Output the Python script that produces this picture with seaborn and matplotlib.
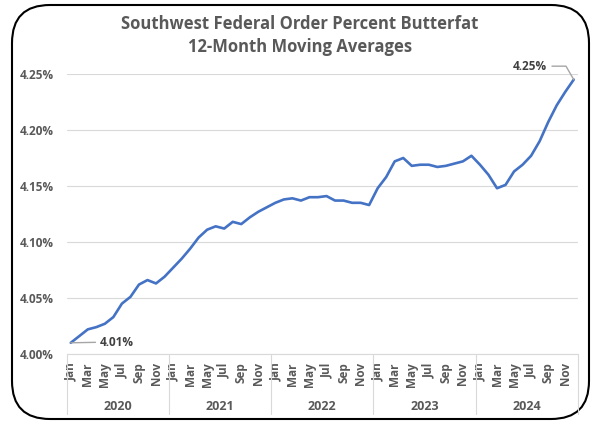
import pandas as pd
import seaborn as sns
import matplotlib.pyplot as plt
from matplotlib.patches import FancyBboxPatch
from matplotlib.transforms import blended_transform_factory

# monthly 12-month moving average of butterfat %, Jan 2020 - Dec 2024
years = ["2020", "2021", "2022", "2023", "2024"]
months = ["Jan", "Feb", "Mar", "Apr", "May", "Jun",
          "Jul", "Aug", "Sep", "Oct", "Nov", "Dec"]
pct_2020 = [4.010, 4.016, 4.022, 4.024, 4.027, 4.033, 4.045, 4.051, 4.062, 4.066, 4.063, 4.069]
pct_2021 = [4.077, 4.085, 4.094, 4.104, 4.111, 4.114, 4.112, 4.118, 4.116, 4.122, 4.127, 4.131]
pct_2022 = [4.135, 4.138, 4.139, 4.137, 4.140, 4.140, 4.141, 4.137, 4.137, 4.135, 4.135, 4.133]
pct_2023 = [4.148, 4.158, 4.172, 4.175, 4.168, 4.169, 4.169, 4.167, 4.168, 4.170, 4.172, 4.177]
pct_2024 = [4.169, 4.160, 4.148, 4.151, 4.163, 4.169, 4.177, 4.190, 4.207, 4.222, 4.234, 4.245]
yticks = [4.00, 4.05, 4.10, 4.15, 4.20, 4.25]

values = pct_2020 + pct_2021 + pct_2022 + pct_2023 + pct_2024
df = pd.DataFrame({"idx": range(len(values)), "pct": values})

sns.set_style("white")
plt.rcParams["font.family"] = ["Open Sans", "DejaVu Sans"]

gray = "#595959"
grid = "#D9D9D9"

fig = plt.figure(figsize=(6, 4.24), dpi=100)

# background axes in pixel units for the rounded frame
bg = fig.add_axes([0, 0, 1, 1], zorder=0)
bg.set_xlim(0, 600)
bg.set_ylim(0, 424)
bg.axis("off")
bg.add_patch(FancyBboxPatch((12, 5), 577, 414, boxstyle="round,pad=0,rounding_size=38",
                            fc="white", ec="black", lw=1.5))

ax = fig.add_axes([66.5 / 600, 1 - 354 / 424, (578 - 66.5) / 600, 280 / 424], zorder=1)
ax.patch.set_alpha(0)
sns.lineplot(data=df, x="idx", y="pct", ax=ax, color="#4472C4", linewidth=1.9)

ax.set_xlim(-0.5, len(values) - 0.5)
ax.set_ylim(4.00, 4.25)
ax.set_yticks(yticks)
ax.yaxis.set_major_formatter(lambda v, p: f"{v:.2f}%")
ax.grid(axis="y", color=grid, lw=0.8)
ax.grid(axis="x", visible=False)
for s in ax.spines.values():
    s.set_visible(False)
ax.set_xlabel("")
ax.set_ylabel("")

# month labels (every other month)
ax.set_xticks(range(0, len(values), 2))
ax.set_xticklabels([months[i % 12] for i in range(0, len(values), 2)],
                   rotation=90, fontweight="bold", color=gray, fontsize=8.5)
ax.tick_params(axis="x", length=0, pad=6)
ax.tick_params(axis="y", length=0, pad=9, labelsize=8.5, labelcolor=gray)
for lbl in ax.get_yticklabels():
    lbl.set_fontweight("bold")

# year labels and separators
tr = blended_transform_factory(ax.transData, ax.transAxes)
for k, yr in enumerate(years):
    ax.text(k * 12 + 5.5, -0.186, yr, transform=tr, ha="center", va="center",
            fontsize=9, fontweight="bold", color=gray)
for k in range(len(years) + 1):
    ax.plot([k * 12 - 0.5, k * 12 - 0.5], [0, -0.214], transform=tr,
            color=grid, lw=0.8, clip_on=False)
ax.plot([-0.5, len(values) - 0.5], [0, 0], transform=tr, color=grid, lw=0.8, clip_on=False)

# end-point labels
ax.annotate("4.01%", xy=(0, values[0]), xytext=(3.45, 4.0105), ha="left", va="center",
            fontsize=8.5, fontweight="bold", color="#404040", annotation_clip=False,
            arrowprops=dict(arrowstyle="-", color="#A6A6A6", lw=1, shrinkA=1, shrinkB=0,
                            relpos=(0, 0.5)))
ax.annotate("4.25%", xy=(len(values) - 1, values[-1]), xytext=(55.9, 4.257), ha="right",
            va="center", fontsize=8.5, fontweight="bold", color="#404040", annotation_clip=False,
            arrowprops=dict(arrowstyle="-", color="#A6A6A6", lw=1, shrinkA=1, shrinkB=0,
                            relpos=(1, 0.5),
                            connectionstyle="angle,angleA=0,angleB=120,rad=0"))

fig.text(0.5, 1 - 35.5 / 424, "Southwest Federal Order Percent Butterfat\n12-Month Moving Averages",
         ha="center", va="center", fontsize=12, fontweight="bold", color=gray,
         linespacing=1.35)

fig.savefig("out.png", dpi=100)
